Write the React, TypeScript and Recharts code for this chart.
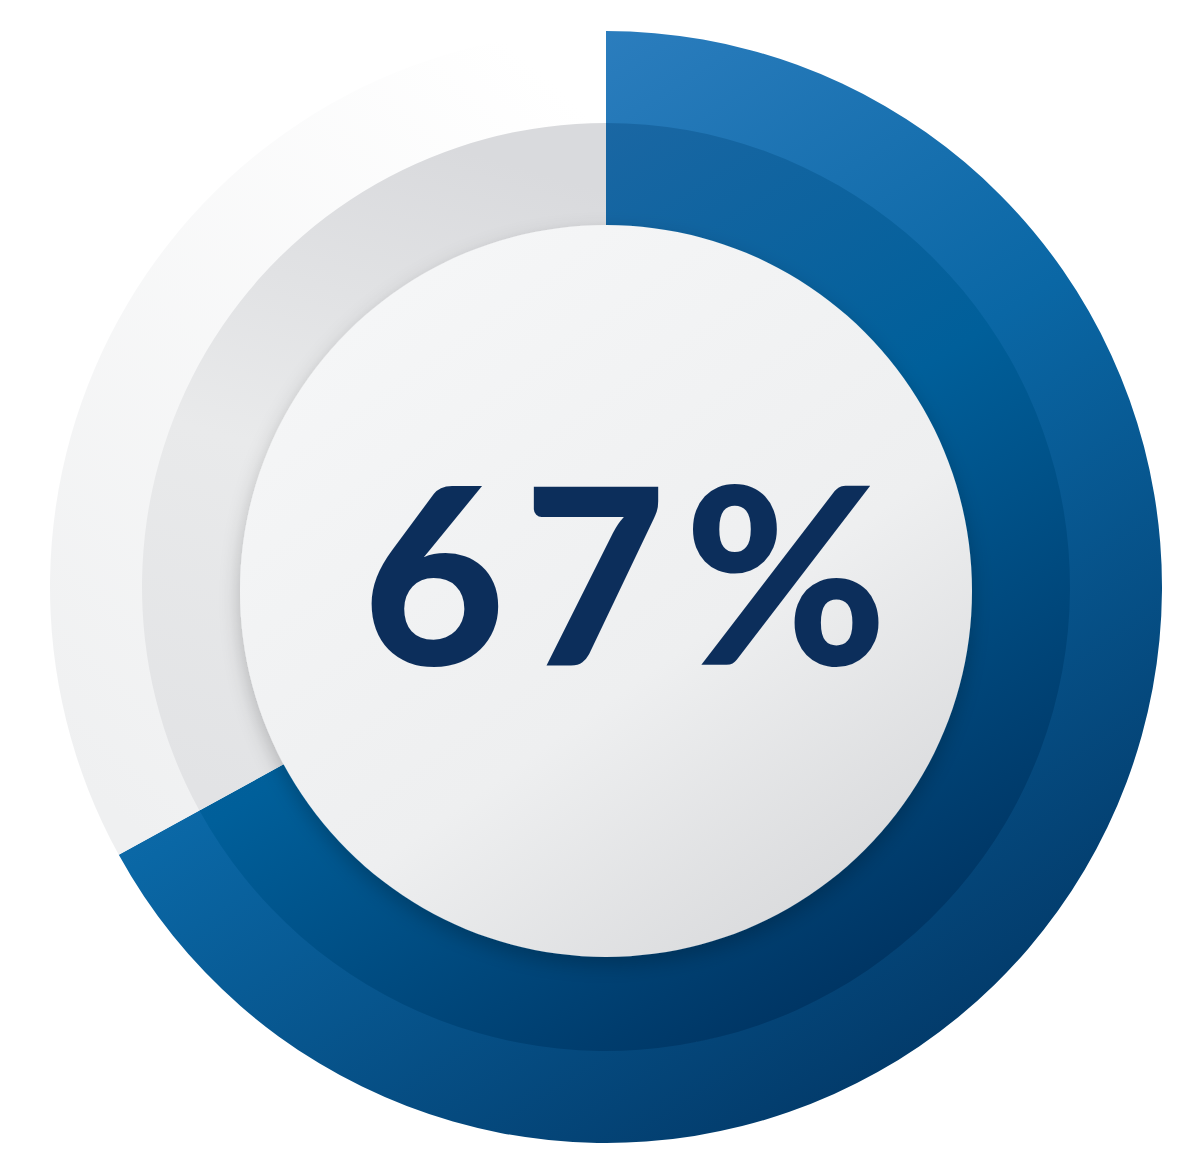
import { PieChart, Pie, Cell, Label } from 'recharts';

// share shown by the ring, and the rest of the circle
const segments = ['done', 'rest'];
const shares = [67, 33];
const centreLabel = '67%';
const disc = [100];

const outerData = segments.map((name, i) => ({ name, value: shares[i] }));
const innerData = segments.map((name, i) => ({ name, value: shares[i] }));
const discData = disc.map((value) => ({ name: 'disc', value }));

const CX = 593;
const CY = 574;
const DISC_CY = 578;

export default function App() {
  return (
    <div style={{ width: 1184, height: 1135, background: '#ffffff' }}>
      <PieChart width={1184} height={1135}>
        <defs>
          <linearGradient id="blueOuter" x1="0.25" y1="0" x2="0.85" y2="1">
            <stop offset="0%" stopColor="#3483c4" />
            <stop offset="45%" stopColor="#0a67a5" />
            <stop offset="100%" stopColor="#01325f" />
          </linearGradient>
          <linearGradient id="blueInner" x1="0.25" y1="0" x2="0.85" y2="1">
            <stop offset="0%" stopColor="#2169a6" />
            <stop offset="45%" stopColor="#005f9a" />
            <stop offset="100%" stopColor="#002c58" />
          </linearGradient>
          <linearGradient id="paleOuter" x1="0.8" y1="0" x2="0.2" y2="1">
            <stop offset="0%" stopColor="#ffffff" />
            <stop offset="100%" stopColor="#eff0f1" />
          </linearGradient>
          <linearGradient id="greyRing" x1="0.5" y1="0" x2="0.3" y2="1">
            <stop offset="0%" stopColor="#d9dadd" />
            <stop offset="50%" stopColor="#e9eaeb" />
            <stop offset="100%" stopColor="#e2e3e5" />
          </linearGradient>
          <linearGradient id="discFill" x1="0.2" y1="0.1" x2="0.8" y2="0.95">
            <stop offset="0%" stopColor="#f5f6f7" />
            <stop offset="60%" stopColor="#eeeff0" />
            <stop offset="100%" stopColor="#d9dadc" />
          </linearGradient>
          <filter id="discShadow" x="-10%" y="-10%" width="120%" height="125%">
            <feDropShadow dx="0" dy="8" stdDeviation="10" floodColor="#000000" floodOpacity="0.22" />
          </filter>
        </defs>
        <Pie
          data={outerData}
          dataKey="value"
          cx={CX}
          cy={CY}
          innerRadius={463}
          outerRadius={556}
          startAngle={90}
          endAngle={-270}
          stroke="none"
          isAnimationActive={false}
        >
          <Cell fill="url(#blueOuter)" />
          <Cell fill="url(#paleOuter)" />
        </Pie>
        <Pie
          data={innerData}
          dataKey="value"
          cx={CX}
          cy={CY}
          innerRadius={355}
          outerRadius={464}
          startAngle={90}
          endAngle={-270}
          stroke="none"
          isAnimationActive={false}
        >
          <Cell fill="url(#blueInner)" />
          <Cell fill="url(#greyRing)" />
        </Pie>
        <Pie
          data={discData}
          dataKey="value"
          cx={CX}
          cy={DISC_CY}
          innerRadius={0}
          outerRadius={366}
          startAngle={90}
          endAngle={-270}
          stroke="none"
          isAnimationActive={false}
        >
          <Cell fill="url(#discFill)" filter="url(#discShadow)" />
          <Label
            position="center"
            content={() => (
              <text
                x={CX + 33}
                y={CY + 83}
                textAnchor="middle"
                fill="#0c2e5b"
                fontFamily="Lato, 'Noto Sans', sans-serif"
                fontWeight={900}
                fontSize={246}
                letterSpacing={18}
              >
                {centreLabel}
              </text>
            )}
          />
        </Pie>
      </PieChart>
    </div>
  );
}
